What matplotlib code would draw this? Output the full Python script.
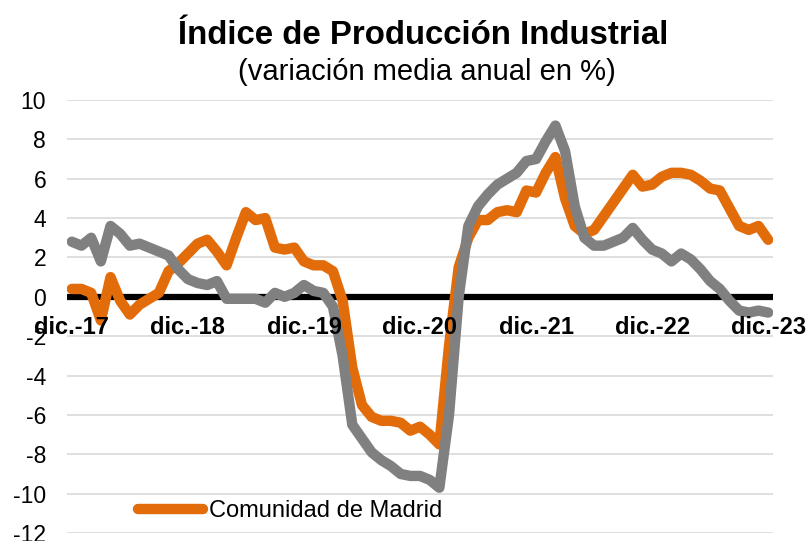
import matplotlib.pyplot as plt
from matplotlib.lines import Line2D

# Data (monthly, dic-17 .. dic-23)
madrid = [0.4, 0.4, 0.2, -1.2, 1.0, -0.2, -0.9, -0.4, -0.1, 0.2, 1.3, 1.7,
          2.2, 2.7, 2.9, 2.3, 1.6, 3.0, 4.3, 3.9, 4.0, 2.5, 2.4, 2.5,
          1.8, 1.6, 1.6, 1.3, -0.2, -3.6, -5.5, -6.1, -6.3, -6.3, -6.4, -6.8,
          -6.6, -7.0, -7.5, -2.5, 1.5, 3.0, 3.9, 3.9, 4.3, 4.4, 4.3, 5.4,
          5.3, 6.3, 7.1, 5.0, 3.6, 3.2, 3.4, 4.1, 4.8, 5.5, 6.2, 5.6,
          5.7, 6.1, 6.3, 6.3, 6.2, 5.9, 5.5, 5.4, 4.5, 3.6, 3.4, 3.6, 2.9]
espana = [2.8, 2.6, 3.0, 1.8, 3.6, 3.2, 2.6, 2.7, 2.5, 2.3, 2.1, 1.4,
          0.9, 0.7, 0.6, 0.8, -0.1, -0.1, -0.1, -0.1, -0.3, 0.2, 0.0, 0.2,
          0.6, 0.3, 0.2, -0.5, -3.0, -6.5, -7.2, -7.9, -8.3, -8.6, -9.0, -9.1,
          -9.1, -9.3, -9.7, -6.0, 0.0, 3.6, 4.6, 5.2, 5.7, 6.0, 6.3, 6.9,
          7.0, 7.9, 8.7, 7.4, 4.6, 3.0, 2.6, 2.6, 2.8, 3.0, 3.5, 2.9,
          2.4, 2.2, 1.8, 2.2, 1.9, 1.4, 0.8, 0.4, -0.2, -0.7, -0.8, -0.7, -0.8]
year_labels = ['dic.-17', 'dic.-18', 'dic.-19', 'dic.-20', 'dic.-21', 'dic.-22', 'dic.-23']
y_ticks = list(range(-12, 11, 2))

ORANGE = '#E36C0A'
GRAY = '#808080'
FONT = 'Liberation Sans'
LW = 7.5

fig = plt.figure(figsize=(8.08, 5.41), dpi=100)
ax = fig.add_axes([67 / 808, 8 / 541, 706 / 808, 433 / 541])

x = list(range(len(madrid)))

for v in y_ticks:
    if v != 0:
        ax.axhline(v, color='#d9d9d9', lw=1.2, zorder=0)
ax.axhline(0, color='black', lw=4.5, zorder=1)

ax.plot(x, madrid, color=ORANGE, lw=LW, solid_joinstyle='round',
        solid_capstyle='round', zorder=2)
ax.plot(x, espana, color=GRAY, lw=LW, solid_joinstyle='round',
        solid_capstyle='round', zorder=3)

ax.set_xlim(-0.5, len(madrid) - 0.5)
ax.set_ylim(-12, 10)
ax.set_yticks(y_ticks)
ax.set_yticklabels([str(v) for v in y_ticks], fontsize=16.5, family=FONT)
ax.tick_params(axis='y', length=0, pad=15)
ax.set_xticks([])
for s in ax.spines.values():
    s.set_visible(False)

for i, lab in enumerate(year_labels):
    ax.text(i * 12, -0.95, lab, ha='center', va='top', fontsize=17,
            fontweight='bold', family=FONT, zorder=4)

fig.text(423 / 808, 1 - 35 / 541, 'Índice de Producción Industrial', ha='center',
         va='center', fontsize=23.8, fontweight='bold', family=FONT)
fig.text(427 / 808, 1 - 72 / 541, '(variación media anual en %)', ha='center',
         va='center', fontsize=21, family=FONT)

handle = Line2D([], [], color=ORANGE, lw=LW, solid_capstyle='round')
fig.legend([handle], ['Comunidad de Madrid'], loc='center left',
           bbox_to_anchor=(138 / 808, 1 - 511 / 541), frameon=False,
           borderpad=0, borderaxespad=0, handlelength=2.75, handletextpad=0.25,
           prop={'family': FONT, 'size': 17})

fig.savefig('out.png', dpi=100)
